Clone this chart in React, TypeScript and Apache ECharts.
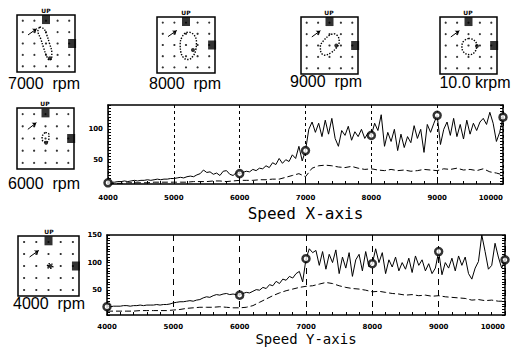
import React, { useEffect, useRef } from 'react';
import * as echarts from 'echarts';

// ---------- main chart data ----------
const rpmFine = Array.from({ length: 121 }, (_, i) => 4000 + i * 50);
const rpmCoarse = Array.from({ length: 61 }, (_, i) => 4000 + i * 100);

const xSolid = [
  12, 13, 13, 14, 14, 15, 14, 15, 16, 15, 16, 16, 17, 16, 17, 18, 17, 18, 18, 19, 19,
  20, 21, 20, 22, 23, 22, 25, 27, 33, 29, 30, 26, 28, 24, 31, 32, 26, 24, 29, 27,
  29, 31, 30, 34, 32, 36, 35, 40, 37, 45, 42, 52, 44, 50, 47, 58, 52, 72, 48, 65,
  100, 112, 95, 110, 88, 115, 92, 118, 85, 72,
  98, 90, 105, 82, 96, 88, 100, 85, 94, 90,
  110, 98, 124, 72, 95, 80, 100, 65, 92, 70,
  88, 78, 106, 85, 100, 62, 108, 95, 110, 123,
  75, 100, 112, 90, 118, 88, 108, 84, 115, 92,
  110, 98, 112, 118, 108, 128, 110, 80, 95, 120,
];
const xDashed = [
  11, 11, 11, 12, 12, 12, 12, 13, 13, 13, 13,
  13, 13, 14, 14, 14, 15, 15, 14, 15, 16,
  16, 16, 17, 17, 18, 18, 21, 24, 27, 22,
  36, 40, 41, 40, 38, 37, 39, 36, 34, 35,
  33, 32, 34, 32, 33, 31, 32, 34, 33, 32,
  35, 34, 36, 33, 34, 32, 35, 30, 28, 25,
];
const ySolid = [
  20, 20, 21, 21, 21, 22, 22, 21, 22, 22, 23, 22, 23, 23, 23, 24, 23, 24, 24, 25, 27,
  28, 29, 29, 30, 31, 30, 32, 33, 36, 38, 37, 40, 42, 41, 43, 44, 42, 43, 42, 41,
  44, 46, 45, 48, 51, 50, 55, 53, 60, 58, 66, 62, 70, 68, 75, 72, 80, 84, 65, 107,
  125, 118, 122, 95, 120, 88, 115, 100, 123, 80,
  110, 90, 118, 75, 105, 115, 85, 120, 92, 98,
  125, 100, 118, 80, 105, 92, 110, 85, 100, 88,
  108, 82, 112, 95, 105, 85, 98, 80, 90, 120,
  78, 100, 90, 108, 85, 112, 95, 110, 80, 70,
  90, 102, 150, 120, 88, 95, 135, 110, 90, 105,
];
const yDashed = [
  12, 12, 12, 12, 12, 13, 13, 13, 13, 13, 14,
  15, 17, 18, 19, 19, 19, 20, 19, 18, 18,
  19, 22, 28, 34, 40, 45, 49, 52, 55, 57,
  58, 61, 64, 62, 58, 55, 53, 52, 50, 47,
  48, 46, 44, 43, 41, 42, 40, 41, 39, 40,
  38, 37, 36, 35, 32, 33, 31, 32, 30, 30,
];
const markerRpm = [4000, 6000, 7000, 8000, 9000, 10000];
const markerX = [12, 27, 65, 90, 123, 120];
const markerY = [20, 41, 107, 98, 120, 105];
const yLabelsTop = [50, 100];
const yLabelsBottom = [50, 100, 150];

// ---------- orbit plot data ----------
const probeGrid = [-2, -1, 0, 1, 2];
const sensorTop = [0, 2.1];
const sensorRight = [2.25, 0];
const refArrow = [[-1.55, 0.75], [-0.8, 1.3]];

const orbit7000 = [[-0.55, 1.45], [-0.2, 1.3], [0.05, 0.8], [0.3, 0], [0.5, -0.8], [0.5, -1.3], [0.3, -1.45], [0.05, -1.1], [-0.2, -0.4], [-0.45, 0.4], [-0.7, 1.1], [-0.55, 1.45]];
const orbit8000 = [[0.3, 1.15], [0.7, 0.9], [0.9, 0.3], [0.85, -0.4], [0.6, -1.0], [0.2, -1.3], [-0.2, -1.15], [-0.45, -0.6], [-0.5, 0.1], [-0.35, 0.7], [0, 1.1], [0.3, 1.15]];
const orbit9000 = [[0.4, 1.05], [0.75, 0.8], [0.85, 0.3], [0.6, -0.2], [0.1, -0.65], [-0.4, -0.85], [-0.75, -0.6], [-0.8, -0.1], [-0.5, 0.45], [0, 0.9], [0.4, 1.05]];
const orbit10k = [[0, 0.62], [0.45, 0.5], [0.72, 0.05], [0.6, -0.5], [0.15, -0.8], [-0.35, -0.65], [-0.58, -0.15], [-0.45, 0.35], [0, 0.62]];
const orbit6000 = [[0, 0.5], [0.3, 0.35], [0.3, 0], [0.1, -0.3], [-0.2, -0.25], [-0.3, 0.1], [-0.15, 0.4], [0, 0.5]];
const orbit4000 = [[0, 0.2], [0.3, 0.15], [0.35, -0.1], [0.1, -0.2], [-0.1, -0.05], [0, 0.2]];
const orbitEnd = {
  o7000: [0.34, -1.3],
  o8000: [0.6, -0.45],
  o9000: [0.6, 0],
  o10k: [0.74, -0.04],
  o6000: [0.05, -0.35],
  o4000: [0.15, 0],
};
const orbitLabels = {
  o7000: '7000  rpm',
  o8000: '8000  rpm',
  o9000: '9000  rpm',
  o10k: '10.0 krpm',
  o6000: '6000  rpm',
  o4000: '4000  rpm',
};
const orbitPaths = { o7000: orbit7000, o8000: orbit8000, o9000: orbit9000, o10k: orbit10k, o6000: orbit6000, o4000: orbit4000 };

// ---------- layout ----------
const orbitLayout = [
  { key: 'o7000', left: 17, top: 15, width: 58, height: 57, up: [46, 10], lab: [44, 83] },
  { key: 'o8000', left: 157, top: 17, width: 58, height: 56, up: [186, 12], lab: [185, 83] },
  { key: 'o9000', left: 301, top: 17, width: 57, height: 57, up: [329, 12], lab: [326, 81] },
  { key: 'o10k', left: 440, top: 17, width: 57, height: 57, up: [468, 12], lab: [475, 82] },
  { key: 'o6000', left: 17, top: 108, width: 57, height: 61, up: [45, 103], lab: [44, 183] },
  { key: 'o4000', left: 18, top: 236, width: 61, height: 60, up: [49, 231], lab: [49, 303] },
];

const BLACK = '#000';

function mainAxes(gi: number, min: number, max: number, labels: number[], name: string, dash: number[], nameGap: number, nameSize: number, labelMargin: number) {
  const xAxes = [
    {
      gridIndex: gi, type: 'value', min: 4000, max: 10000, interval: 1000,
      axisLine: { lineStyle: { color: BLACK, width: 1.5 } },
      axisTick: { inside: true, length: 4, lineStyle: { color: BLACK } },
      minorTick: { show: true, splitNumber: 5, length: 3, lineStyle: { color: BLACK } },
      axisLabel: {
        color: BLACK, fontSize: 7, fontWeight: 'bold', margin: labelMargin, fontFamily: 'DejaVu Sans',
        formatter: (v: number) => String(v), alignMaxLabel: 'right',
      },
      splitLine: { show: true, lineStyle: { color: BLACK, type: dash, width: 1 } },
      name, nameLocation: 'middle', nameGap,
      nameTextStyle: { fontFamily: 'DejaVu Sans Mono', fontSize: nameSize, lineHeight: nameSize, color: BLACK },
    },
    {
      gridIndex: gi, type: 'value', min: 4000, max: 10000, position: 'top',
      axisLine: { lineStyle: { color: BLACK, width: 1.5 } },
      axisTick: { show: false }, axisLabel: { show: false }, splitLine: { show: false },
    },
  ];
  const yAxes = [
    {
      gridIndex: gi, type: 'value', min, max, interval: 5,
      axisLine: { show: true, lineStyle: { color: BLACK, width: 1.5 } },
      axisTick: { show: true, inside: true, length: 3, lineStyle: { color: BLACK } },
      axisLabel: {
        interval: 0, color: BLACK, fontSize: 7, fontWeight: 'bold', margin: 5, fontFamily: 'DejaVu Sans',
        formatter: (v: number) => (labels.indexOf(v) >= 0 ? String(v) : ''),
      },
      splitLine: { show: false },
    },
    {
      gridIndex: gi, type: 'value', min, max, interval: 5, position: 'right',
      axisLine: { show: true, lineStyle: { color: BLACK, width: 1.5 } },
      axisTick: { show: true, inside: true, length: 3, lineStyle: { color: BLACK } },
      axisLabel: { show: false }, splitLine: { show: false },
    },
  ];
  return { xAxes, yAxes };
}

export default function App() {
  const ref = useRef<HTMLDivElement>(null);
  useEffect(() => {
    if (!ref.current) return;
    const chart = echarts.init(ref.current, null, { renderer: 'svg' });

    const grids: any[] = [
      { left: 108, top: 105, width: 395, height: 79, outerBoundsMode: 'none', containLabel: false },
      { left: 107, top: 235, width: 398, height: 80, outerBoundsMode: 'none', containLabel: false },
    ];
    const top = mainAxes(0, 10, 140, yLabelsTop, 'Speed X-axis', [3, 3], 21, 16, 10);
    const bot = mainAxes(1, 5, 150, yLabelsBottom, 'Speed Y-axis', [6, 5], 17, 14, 8);
    const xAxis: any[] = [...top.xAxes, ...bot.xAxes];
    const yAxis: any[] = [...top.yAxes, ...bot.yAxes];
    const series: any[] = [];
    const lineCommon = { type: 'line', symbol: 'none', silent: true };
    series.push({ ...lineCommon, xAxisIndex: 0, yAxisIndex: 0, data: rpmFine.map((r, i) => [r, xSolid[i]]), lineStyle: { color: BLACK, width: 1 } });
    series.push({ ...lineCommon, xAxisIndex: 0, yAxisIndex: 0, data: rpmCoarse.map((r, i) => [r, xDashed[i]]), lineStyle: { color: BLACK, width: 1, type: [6, 3] } });
    series.push({ type: 'scatter', xAxisIndex: 0, yAxisIndex: 0, data: markerRpm.map((r, i) => [r, markerX[i]]), symbolSize: 7, itemStyle: { color: '#fff', borderColor: BLACK, borderWidth: 2.5 }, z: 5 });
    series.push({ ...lineCommon, xAxisIndex: 2, yAxisIndex: 2, data: rpmFine.map((r, i) => [r, ySolid[i]]), lineStyle: { color: BLACK, width: 1 } });
    series.push({ ...lineCommon, xAxisIndex: 2, yAxisIndex: 2, data: rpmCoarse.map((r, i) => [r, yDashed[i]]), lineStyle: { color: BLACK, width: 1, type: [6, 3] } });
    series.push({ type: 'scatter', xAxisIndex: 2, yAxisIndex: 2, data: markerRpm.map((r, i) => [r, markerY[i]]), symbolSize: 7, itemStyle: { color: '#fff', borderColor: BLACK, borderWidth: 2.5 }, z: 5 });

    const dots: number[][] = [];
    probeGrid.forEach((x) => probeGrid.forEach((y) => dots.push([x, y])));

    const graphics: any[] = [];
    orbitLayout.forEach((o) => {
      const gi = grids.length;
      grids.push({ left: o.left, top: o.top, width: o.width, height: o.height, show: true, borderColor: BLACK, borderWidth: 1.5, backgroundColor: 'transparent', outerBoundsMode: 'none' });
      const xi = xAxis.length;
      xAxis.push({ gridIndex: gi, type: 'value', min: -2.5, max: 2.5, show: false });
      const yi = yAxis.length;
      yAxis.push({ gridIndex: gi, type: 'value', min: -2.5, max: 2.5, show: false });
      const ax = { xAxisIndex: xi, yAxisIndex: yi };
      series.push({ type: 'scatter', ...ax, data: dots, symbolSize: 2.2, itemStyle: { color: BLACK } });
      series.push({ type: 'scatter', ...ax, data: [sensorTop, sensorRight], symbol: 'rect', symbolSize: [8, 9], itemStyle: { color: BLACK }, clip: false });
      series.push({
        type: 'line', ...ax, symbol: 'none', silent: true,
        data: refArrow.map((p, i) => (i === 1 ? { value: p, symbol: 'arrow', symbolSize: 4, symbolRotate: -54 } : { value: p })),
        lineStyle: { color: BLACK, width: 1 }, itemStyle: { color: BLACK },
        showSymbol: true,
      });
      series.push({ type: 'line', ...ax, symbol: 'none', smooth: 0.4, data: (orbitPaths as any)[o.key], lineStyle: { color: BLACK, width: 1.4, type: 'dotted' } });
      series.push({ type: 'scatter', ...ax, data: [(orbitEnd as any)[o.key]], symbolSize: 4, itemStyle: { color: BLACK } });

      graphics.push({ type: 'text', x: o.up[0], y: o.up[1], style: { text: 'UP', fontSize: 6, fontWeight: 'bold', fill: BLACK, align: 'center', verticalAlign: 'middle', fontFamily: 'DejaVu Sans' } });
      graphics.push({ type: 'text', x: o.lab[0], y: o.lab[1], style: { text: (orbitLabels as any)[o.key], fontSize: 16, fill: BLACK, align: 'center', verticalAlign: 'middle', fontFamily: 'Liberation Sans' } });
    });

    chart.setOption({
      animation: false,
      backgroundColor: '#fff',
      grid: grids,
      xAxis,
      yAxis,
      series,
      graphic: graphics,
    });
    return () => chart.dispose();
  }, []);
  return <div ref={ref} style={{ position: 'fixed', left: 0, top: 0, width: 513, height: 347 }} />;
}
